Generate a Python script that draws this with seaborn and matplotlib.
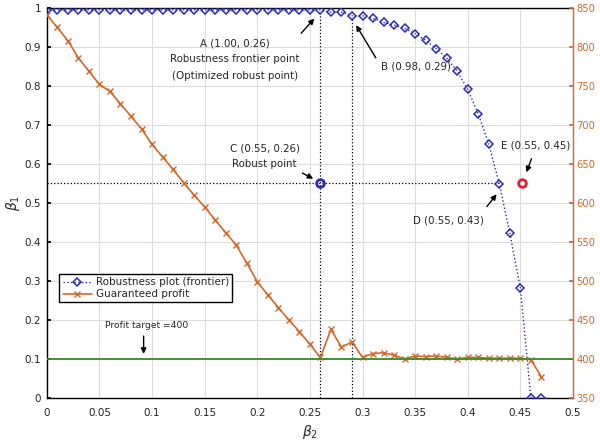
import numpy as np
import pandas as pd
import seaborn as sns
import matplotlib.pyplot as plt

sns.set_theme(style="whitegrid")
plt.rcParams['font.family'] = ['DejaVu Sans']

# beta_2 grid used for both curves
beta2 = [round(0.01 * i, 2) for i in range(48)]

# robustness frontier (beta_1)
beta1 = [0.995] * 27 + [0.989, 0.989, 0.98, 0.98, 0.973, 0.963, 0.956, 0.948,
                        0.934, 0.917, 0.896, 0.871, 0.838, 0.791, 0.728, 0.651,
                        0.549, 0.422, 0.281, 0.0, 0.0]

# guaranteed profit (right axis)
profit = [841, 825, 808, 786, 769, 752, 743, 727, 711, 695, 675, 659, 643, 626,
          610, 595, 578, 562, 546, 523, 499, 482, 466, 450, 435, 419, 402, 438,
          415, 422, 402, 407, 408, 405, 400, 404, 403, 404, 402, 400, 402, 402,
          401, 401, 401, 401, 399, 377]

profit_target = 400
robust_pt = (0.26, 0.55)
outside_pt = (0.452, 0.55)

blue = "#2B2BB5"
orange = "#D2692A"
green = "#3A8A2C"
red = "#E02030"

frontier = pd.DataFrame({"beta2": beta2, "beta1": beta1})
prof = pd.DataFrame({"beta2": beta2, "profit": profit})

fig = plt.figure(figsize=(6, 4.41), dpi=100)
ax = fig.add_axes([0.078, 0.0975, 0.877, 0.8845])
ax2 = ax.twinx()

sns.lineplot(data=frontier, x="beta2", y="beta1", ax=ax, color=blue, linestyle=":",
             linewidth=1, marker="D", markersize=4.2, markerfacecolor="none",
             markeredgecolor=blue, markeredgewidth=1.1, label="Robustness plot (frontier)",
             legend=False, zorder=4)

sns.lineplot(data=prof, x="beta2", y="profit", ax=ax2, color=orange, linewidth=1.2,
             marker="x", markersize=5, markeredgecolor=orange, markeredgewidth=1,
             label="Guaranteed profit", legend=False)
ax2.axhline(profit_target, color=green, linewidth=1.3)
ax2.set_ylabel("")
ax2.set_xlabel("")

# reference dotted guides
ax.plot([0.26, 0.26], [0, 0.99], color="black", linestyle=":", linewidth=0.9)
ax.plot([0.29, 0.29], [0, 0.975], color="black", linestyle=":", linewidth=0.9)
ax.plot([0, 0.43], [0.55, 0.55], color="black", linestyle=":", linewidth=0.9)

ax.plot(*robust_pt, marker="o", markersize=5.5, markerfacecolor="none",
        markeredgecolor=blue, markeredgewidth=2, zorder=6)
ax.plot(*outside_pt, marker="o", markersize=5.5, markerfacecolor="none",
        markeredgecolor=red, markeredgewidth=2, zorder=6)

ax.set_xlim(0, 0.5)
ax.set_ylim(0, 1)
ax2.set_ylim(350, 850)
ax.set_xticks(np.arange(0, 0.51, 0.05))
ax.set_xticklabels(["0", "0.05", "0.1", "0.15", "0.2", "0.25", "0.3", "0.35",
                    "0.4", "0.45", "0.5"])
ax.set_yticks(np.arange(0, 1.01, 0.1))
ax.set_yticklabels(["0", "0.1", "0.2", "0.3", "0.4", "0.5", "0.6", "0.7", "0.8",
                    "0.9", "1"])
ax2.set_yticks(np.arange(350, 851, 50))
ax2.grid(False)
ax.grid(True, color="#DDDDDD", linewidth=0.8)

ax.set_xlabel(r"$\beta_2$", fontsize=10, labelpad=4)
ax.set_ylabel(r"$\beta_1$", fontsize=10, labelpad=2)

ax.tick_params(axis="y", direction="in", labelsize=7.5, length=3, color="black",
               pad=4, labelcolor="#222222")
ax.tick_params(axis="x", direction="in", labelsize=7.5, length=3, color="black",
               pad=7, labelcolor="#222222")
ax2.tick_params(axis="y", direction="in", labelsize=7.2, length=3, color=orange,
                labelcolor=orange, pad=2.5)
for side in ["left", "bottom", "top"]:
    ax.spines[side].set_color("black")
    ax.spines[side].set_linewidth(1)
    ax2.spines[side].set_visible(False)
ax.spines["right"].set_visible(False)
ax2.spines["right"].set_color(orange)
ax2.spines["right"].set_linewidth(1)

arw = dict(arrowstyle="-|>", color="black", linewidth=1, mutation_scale=8)
fs = 7.4
ax.annotate("", xy=(0.256, 0.978), xytext=(0.240, 0.93), arrowprops=arw)
ax.text(0.179, 0.91, "A (1.00, 0.26)", ha="center", va="center", fontsize=fs)
ax.text(0.179, 0.868, "Robustness frontier point", ha="center", va="center", fontsize=fs)
ax.text(0.179, 0.826, "(Optimized robust point)", ha="center", va="center", fontsize=fs)

ax.annotate("", xy=(0.2925, 0.962), xytext=(0.314, 0.866), arrowprops=arw)
ax.text(0.318, 0.849, "B (0.98, 0.29)", ha="left", va="center", fontsize=fs)

ax.annotate("", xy=(0.2555, 0.559), xytext=(0.2405, 0.58), arrowprops=arw)
ax.text(0.207, 0.64, "C (0.55, 0.26)", ha="center", va="center", fontsize=fs)
ax.text(0.207, 0.599, "Robust point", ha="center", va="center", fontsize=fs)

ax.annotate("", xy=(0.429, 0.528), xytext=(0.4165, 0.485), arrowprops=arw)
ax.text(0.348, 0.456, "D (0.55, 0.43)", ha="left", va="center", fontsize=fs)

ax.annotate("", xy=(0.4548, 0.572), xytext=(0.4615, 0.62), arrowprops=arw)
ax.text(0.4317, 0.647, "E (0.55, 0.45)", ha="left", va="center", fontsize=fs)

ax.annotate("", xy=(0.092, 0.106), xytext=(0.092, 0.166), arrowprops=arw)
ax.text(0.095, 0.187, "Profit target =400", ha="center", va="center", fontsize=6.6)

h1, l1 = ax.get_legend_handles_labels()
h2, l2 = ax2.get_legend_handles_labels()
leg = ax2.legend(h1 + h2, l1 + l2, loc="lower left", bbox_to_anchor=(0.024, 0.245),
                 fontsize=7.5, frameon=True, fancybox=False, framealpha=1,
                 edgecolor="black", borderpad=0.3, handlelength=2.8,
                 handletextpad=0.4, labelspacing=0.2, borderaxespad=0)
leg.get_frame().set_linewidth(1)

fig.savefig("out.png", dpi=100)
